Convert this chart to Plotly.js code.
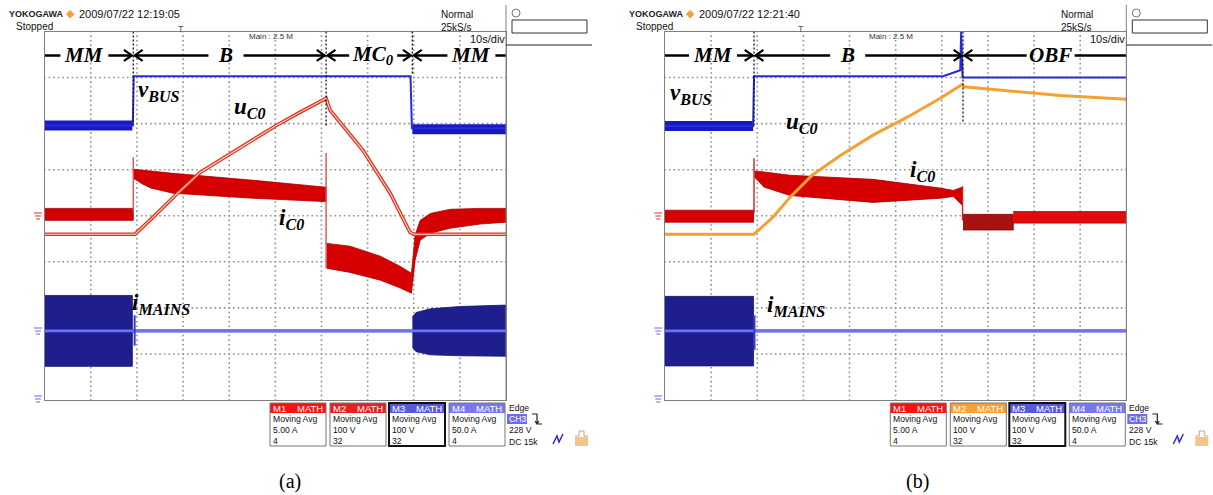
<!DOCTYPE html>
<html><head><meta charset="utf-8">
<script src="https://cdn.plot.ly/plotly-3.0.1.min.js"></script>
<style>html,body{margin:0;padding:0;background:#fff}#chart{width:1213px;height:495px}</style>
</head><body><div id="chart"></div>
<script>
// ================= DATA (time in s, 10 s/div; amplitude in screen divisions) =================
// ---- Panel (a) ----
const phaseA = [19.2, 61.0, 79.7];
const phaseLabelsA = ['MM', 'B', 'MC<sub>0</sub>', 'MM'];
const phaseCentersA = [8.6, 39.3, 71.2, 92.5];
const vBusA_t = [0, 19.1, 19.3, 79.3, 79.6, 100];
const vBusA_v = [1.96, 1.96, 3.03, 3.03, 1.90, 1.90];
const vBusA_noise1_t = [0, 19.0];   const vBusA_noise1_v = [1.96, 1.96];
const vBusA_noise2_t = [79.7, 100]; const vBusA_noise2_v = [1.88, 1.88];
const uC0A_t = [0, 19.6, 23.5, 28.3, 33.7, 45.2, 50.2, 55.4, 60.4, 61.0, 61.9, 69.0, 74.9, 79.2, 80.0, 100];
const uC0A_v = [-0.40, -0.40, -0.03, 0.44, 0.94, 1.64, 1.96, 2.25, 2.51, 2.55, 2.29, 1.42, 0.49, -0.36, -0.40, -0.40];
const iC0A_mm1_t = [0, 19.2];        const iC0A_mm1_hi = [0.16, 0.16];  const iC0A_mm1_lo = [-0.10, -0.10];
const iC0A_b_t  = [19.3, 21.0, 23.0, 27.8, 45.2, 60.4, 61.0];
const iC0A_b_hi = [1.01, 0.99, 0.97, 0.92, 0.77, 0.62, 0.62];
const iC0A_b_lo = [0.81, 0.70, 0.60, 0.49, 0.38, 0.31, 0.31];
const iC0A_mc_t  = [61.1, 66.2, 72.8, 77.1, 79.5];
const iC0A_mc_hi = [-0.60, -0.66, -0.88, -1.10, -1.25];
const iC0A_mc_lo = [-1.14, -1.23, -1.40, -1.57, -1.68];
const iC0A_mm2_t  = [79.5, 80.3, 81.4, 83.6, 87.9, 94.4, 100];
const iC0A_mm2_hi = [-1.25, -0.42, -0.10, 0.05, 0.14, 0.16, 0.16];
const iC0A_mm2_lo = [-1.68, -0.97, -0.53, -0.38, -0.27, -0.18, -0.14];
const iC0A_spike_t = [19.2, 61.0]; const iC0A_spike_lo = [0.10, -1.14]; const iC0A_spike_hi = [1.27, 1.36];
const iMainsA_mm1_t = [0, 19.0];  const iMainsA_mm1_hi = [-1.73, -1.73]; const iMainsA_mm1_lo = [-3.27, -3.27];
const iMainsA_mm2_t = [79.7, 80.5, 83.6, 90.0, 100];
const iMainsA_mm2_hi = [-2.20, -2.10, -2.02, -1.97, -1.94];
const iMainsA_mm2_lo = [-2.85, -2.95, -3.02, -3.04, -3.05];
const iMainsA_t = [0, 100]; const iMainsA_v = [-2.50, -2.50];
const iMainsA_spike_t = [19.5]; const iMainsA_spike_lo = [-2.82]; const iMainsA_spike_hi = [-2.16];

// ---- Panel (b) ----
const phaseB = [19.3, 64.6];
const phaseLabelsB = ['MM', 'B', 'OBF'];
const phaseCentersB = [10.4, 39.6, 83.6];
const vBusB_t = [0, 19.1, 19.3, 60.3, 64.0, 64.2, 64.5, 100];
const vBusB_v = [1.95, 1.95, 3.03, 3.03, 3.16, 4.00, 3.00, 3.00];
const vBusB_noise1_t = [0, 19.1]; const vBusB_noise1_v = [1.95, 1.95];
const uC0B_t = [0, 19.3, 23.4, 27.1, 31.9, 38.0, 45.1, 52.5, 59.7, 64.4, 64.8, 85.7, 100];
const uC0B_v = [-0.40, -0.40, -0.03, 0.40, 0.88, 1.31, 1.75, 2.14, 2.55, 2.85, 2.80, 2.61, 2.53];
const iC0B_mm1_t = [0, 19.2]; const iC0B_mm1_hi = [0.12, 0.12]; const iC0B_mm1_lo = [-0.14, -0.14];
const iC0B_b_t  = [19.4, 21.5, 27.1, 45.1, 59.7, 62.5, 64.4];
const iC0B_b_hi = [0.97, 0.95, 0.88, 0.79, 0.60, 0.55, 0.62];
const iC0B_b_lo = [0.84, 0.62, 0.44, 0.29, 0.38, 0.42, 0.23];
const iC0B_obf1_t = [64.6, 75.5]; const iC0B_obf1_hi = [0.03, 0.03]; const iC0B_obf1_lo = [-0.31, -0.31];
const iC0B_obf2_t = [75.5, 100];  const iC0B_obf2_hi = [0.09, 0.09]; const iC0B_obf2_lo = [-0.16, -0.16];
const iC0B_spike_t = [19.3, 64.5]; const iC0B_spike_lo = [0.05, -0.10]; const iC0B_spike_hi = [1.25, 0.64];
const iMainsB_mm1_t = [0, 19.2]; const iMainsB_mm1_hi = [-1.75, -1.75]; const iMainsB_mm1_lo = [-3.26, -3.26];
const iMainsB_t = [0, 100]; const iMainsB_v = [-2.50, -2.50];
const iMainsB_spike_t = [19.4]; const iMainsB_spike_lo = [-2.91]; const iMainsB_spike_hi = [-2.16];

// ---- Scope readout text ----
const dateA = '2009/07/22 12:19:05';
const dateB = '2009/07/22 12:21:40';
const boxNames = ['M1', 'M2', 'M3', 'M4'];
const boxLines = [['Moving Avg', '5.00 A', '4'], ['Moving Avg', '100 V', '32'], ['Moving Avg', '100 V', '32'], ['Moving Avg', '50.0 A', '4']];
const edgeLines = ['Edge', 'CH3', '228 V', 'DC 15k'];

// ================= BUILD =================
const W = 1213, H = 495;
const PX = x => x / W, PY = y => 1 - y / H;
const GRID_TOP = 31.5, GRID_BOT = 400;
const S_PER_PX = 100 / 461.3;
const D_PER_PX = 8 / (GRID_BOT - GRID_TOP);
const traces = [], shapes = [], annotations = [];

function addGrid(xa, ya) { // oscilloscope dotted graticule, one dot every 1/10 division
  const x = [], y = [];
  for (let g = 1; g <= 9; g++) for (let k = 0; k <= 80; k++) { x.push(g * 10); y.push(-4 + k * 0.1); }
  for (let g = -3; g <= 3; g++) for (let k = 0; k <= 100; k++) { x.push(k); y.push(g); }
  traces.push({type: 'scatter', mode: 'markers', xaxis: xa, yaxis: ya, x: x, y: y,
    marker: {symbol: 'square', size: 1.6, color: '#8f8f8f', line: {width: 0}}, hoverinfo: 'skip'});
}
function addBand(xa, ya, t, hi, lo, fill, edge) {
  traces.push({type: 'scatter', mode: 'lines', xaxis: xa, yaxis: ya,
    x: t.concat(t.slice().reverse()), y: hi.concat(lo.slice().reverse()),
    fill: 'toself', fillcolor: fill, line: {color: edge, width: 0.8}, hoverinfo: 'skip'});
}
function addLine(xa, ya, t, v, color, width) {
  traces.push({type: 'scatter', mode: 'lines', xaxis: xa, yaxis: ya, x: t, y: v,
    line: {color: color, width: width}, hoverinfo: 'skip'});
}
function addSpikes(xa, ya, t, lo, hi, color, width) {
  const x = [], y = [];
  t.forEach((tt, i) => { x.push(tt, tt, null); y.push(lo[i], hi[i], null); });
  traces.push({type: 'scatter', mode: 'lines', xaxis: xa, yaxis: ya, x: x, y: y,
    line: {color: color, width: width}, hoverinfo: 'skip', connectgaps: false});
}

const RED = '#d60000', REDEDGE = '#a80000';
const NAVY = '#1e1e8e';

// ---- Panel (a) traces ----
addGrid('x', 'y');
addBand('x', 'y', iMainsA_mm1_t, iMainsA_mm1_hi, iMainsA_mm1_lo, NAVY, '#15156e');
addBand('x', 'y', iMainsA_mm2_t, iMainsA_mm2_hi, iMainsA_mm2_lo, NAVY, '#15156e');
addLine('x', 'y', iMainsA_t, iMainsA_v, '#4b4be6', 3.2);
addLine('x', 'y', iMainsA_t, iMainsA_v, '#9a9aff', 1);
addSpikes('x', 'y', iMainsA_spike_t, iMainsA_spike_lo, iMainsA_spike_hi, '#3a3ad0', 2);
addBand('x', 'y', iC0A_mm1_t, iC0A_mm1_hi, iC0A_mm1_lo, RED, REDEDGE);
addBand('x', 'y', iC0A_b_t, iC0A_b_hi, iC0A_b_lo, RED, REDEDGE);
addBand('x', 'y', iC0A_mc_t, iC0A_mc_hi, iC0A_mc_lo, RED, REDEDGE);
addBand('x', 'y', iC0A_mm2_t, iC0A_mm2_hi, iC0A_mm2_lo, RED, REDEDGE);
addSpikes('x', 'y', iC0A_spike_t, iC0A_spike_lo, iC0A_spike_hi, '#e05050', 1.4);
addLine('x', 'y', uC0A_t, uC0A_v, '#e2301e', 3.6);
addLine('x', 'y', uC0A_t, uC0A_v, '#ffd8c8', 1.1);
addLine('x', 'y', vBusA_noise1_t, vBusA_noise1_v, '#1818c4', 10);
addLine('x', 'y', vBusA_noise2_t, vBusA_noise2_v, '#1818c4', 10);
addLine('x', 'y', vBusA_t, vBusA_v, '#2a2ad8', 2);

// ---- Panel (b) traces ----
addGrid('x2', 'y2');
addBand('x2', 'y2', iMainsB_mm1_t, iMainsB_mm1_hi, iMainsB_mm1_lo, NAVY, '#15156e');
addLine('x2', 'y2', iMainsB_t, iMainsB_v, '#4b4be6', 3.2);
addLine('x2', 'y2', iMainsB_t, iMainsB_v, '#9a9aff', 1);
addSpikes('x2', 'y2', iMainsB_spike_t, iMainsB_spike_lo, iMainsB_spike_hi, '#3a3ad0', 2);
addBand('x2', 'y2', iC0B_mm1_t, iC0B_mm1_hi, iC0B_mm1_lo, RED, REDEDGE);
addBand('x2', 'y2', iC0B_b_t, iC0B_b_hi, iC0B_b_lo, RED, REDEDGE);
addBand('x2', 'y2', iC0B_obf1_t, iC0B_obf1_hi, iC0B_obf1_lo, '#a81212', '#8a0000');
addBand('x2', 'y2', iC0B_obf2_t, iC0B_obf2_hi, iC0B_obf2_lo, '#e30c0c', REDEDGE);
addSpikes('x2', 'y2', iC0B_spike_t, iC0B_spike_lo, iC0B_spike_hi, '#d02020', 1.4);
addLine('x2', 'y2', uC0B_t, uC0B_v, '#f5a035', 3);
addLine('x2', 'y2', vBusB_noise1_t, vBusB_noise1_v, '#1818c4', 10);
addLine('x2', 'y2', vBusB_t, vBusB_v, '#2a2ad8', 2);

// ---- Phase header rows & dashed markers ----
const HEAD_Y = 3.48;
const SERIF_BI = {family: 'Liberation Serif', weight: 'bold', style: 'italic', color: '#000'};
function chevron(xa, ya, x, dir) {
  const dx = 8 * S_PER_PX * dir, dy = 5.5 * D_PER_PX;
  shapes.push({type: 'path', xref: xa, yref: ya,
    path: 'M ' + (x - dx) + ',' + (HEAD_Y + dy) + ' L ' + x + ',' + HEAD_Y + ' L ' + (x - dx) + ',' + (HEAD_Y - dy),
    line: {color: '#000', width: 2.2}});
}
function hline(xa, ya, x0, x1) {
  shapes.push({type: 'line', xref: xa, yref: ya, x0: x0, x1: x1, y0: HEAD_Y, y1: HEAD_Y, line: {color: '#000', width: 2.5}});
}
function headerRow(xa, ya, bounds, labels, centers, dashEnds) {
  const starts = [0].concat(bounds), ends = bounds.concat([100]);
  const n = labels.length;
  bounds.forEach((b, i) => {
    shapes.push({type: 'line', xref: xa, yref: ya, x0: b, x1: b, y0: 4, y1: dashEnds[i],
      line: {color: '#111', width: 1.3, dash: '2px,2px'}});
  });
  labels.forEach((lab, i) => {
    const c = centers[i];
    const hw = (lab === 'B') ? 3.8 : 5.2;
    const lt = c - hw, rt = c + hw;
    if (i === 0) { hline(xa, ya, 0, lt); }
    else { hline(xa, ya, starts[i] + 0.3, lt); chevron(xa, ya, starts[i] + 0.3, -1); }
    if (i === n - 1) { hline(xa, ya, rt, 100); }
    else { hline(xa, ya, rt, ends[i] - 0.3); chevron(xa, ya, ends[i] - 0.3, 1); }
    annotations.push({xref: xa, yref: ya, x: c, y: HEAD_Y, text: lab, showarrow: false,
      xanchor: 'center', yanchor: 'middle', font: Object.assign({size: 21}, SERIF_BI)});
  });
}
headerRow('x', 'y', phaseA, phaseLabelsA, phaseCentersA, [1.98, 1.96, 3.05]);
headerRow('x2', 'y2', phaseB, phaseLabelsB, phaseCentersB, [1.95, 2.0]);

// ---- Signal labels ----
function sigLabel(xa, ya, x, y, html) {
  annotations.push({xref: xa, yref: ya, x: x, y: y, text: html, showarrow: false,
    xanchor: 'center', yanchor: 'middle', font: Object.assign({size: 23}, SERIF_BI)});
}
sigLabel('x', 'y', 24.8, 2.70, 'v<sub>BUS</sub>');
sigLabel('x', 'y', 44.4, 2.33, 'u<sub>C0</sub>');
sigLabel('x', 'y', 53.6, -0.08, 'i<sub>C0</sub>');
sigLabel('x', 'y', 25.2, -1.92, 'i<sub>MAINS</sub>');
sigLabel('x2', 'y2', 5.6, 2.64, 'v<sub>BUS</sub>');
sigLabel('x2', 'y2', 29.6, 2.02, 'u<sub>C0</sub>');
sigLabel('x2', 'y2', 55.8, 0.98, 'i<sub>C0</sub>');
sigLabel('x2', 'y2', 28.4, -1.95, 'i<sub>MAINS</sub>');

// ---- Scope UI decorations (paper pixels) ----
function ptxt(x, y, text, size, color, anchor, weight) {
  annotations.push({xref: 'paper', yref: 'paper', x: PX(x), y: PY(y), text: text, showarrow: false,
    xanchor: anchor || 'left', yanchor: 'middle', align: 'left', borderpad: 0,
    font: {family: 'Liberation Sans', size: size, color: color || '#000', weight: weight || 'normal'}});
}
function prect(x0, y0, x1, y1, line, fill, lw) {
  shapes.push({type: 'rect', xref: 'paper', yref: 'paper', x0: PX(x0), x1: PX(x1), y0: PY(y1), y1: PY(y0),
    line: {color: line || 'rgba(0,0,0,0)', width: lw === undefined ? 1 : lw}, fillcolor: fill || 'rgba(0,0,0,0)', layer: 'above'});
}
function pline(x0, y0, x1, y1, color, w) {
  shapes.push({type: 'line', xref: 'paper', yref: 'paper', x0: PX(x0), x1: PX(x1), y0: PY(y0), y1: PY(y1),
    line: {color: color, width: w || 1}, layer: 'above'});
}
function ppath(d, color, w, fill) {
  shapes.push({type: 'path', xref: 'paper', yref: 'paper', path: d, line: {color: color, width: w || 1},
    fillcolor: fill || 'rgba(0,0,0,0)', layer: 'above'});
}
function pathPx(pts) {
  return pts.map(p => p[0] + ' ' + PX(p[1]).toFixed(5) + ',' + PY(p[2]).toFixed(5)).join(' ');
}

const panelsUI = [{dx: 0, date: dateA, m2: '#e62020'}, {dx: 620.3, date: dateB, m2: '#f7a033'}];
panelsUI.forEach(P => {
  const d = P.dx;
  ptxt(8 + d, 14, 'YOKOGAWA', 9, '#222', 'left', 'bold');
  ptxt(70 + d, 13, '◆', 11, '#f5a040', 'center');
  ptxt(78 + d, 14, P.date, 11, '#111');
  ptxt(15 + d, 26, 'Stopped', 10, '#111');
  ptxt(181 + d, 29, 'T', 9, '#555', 'center');
  ptxt(271 + d, 36, 'Main : 2.5 M', 8, '#333', 'center');
  ptxt(440 + d, 15, 'Normal', 10, '#111');
  ptxt(440 + d, 27.5, '25kS/s', 10, '#111');
  ptxt(506 + d, 39, '10s/div', 11, '#111', 'right');
  pline(506 + d, 5, 506 + d, GRID_BOT, '#808080', 1);
  prect(512 + d, 20, 587 + d, 33, '#333', null, 1);
  pline(506 + d, 45, 592 + d, 45, '#222', 1);
  shapes.push({type: 'circle', xref: 'paper', yref: 'paper', x0: PX(512 + d), x1: PX(520 + d), y0: PY(17), y1: PY(9),
    line: {color: '#777', width: 1}, layer: 'above'});
  [[216, '#e03030'], [331, '#6a6ae0'], [399, '#6a6ae0']].forEach(g => {
    const y = g[0];
    ppath(pathPx([['M', 34 + d, y - 3], ['L', 42 + d, y - 3], ['M', 35 + d, y], ['L', 41 + d, y], ['M', 36 + d, y + 3], ['L', 40 + d, y + 3]]), g[1], 1);
  });
  const bx = [270, 330, 389, 449];
  const hcol = ['#ff1010', P.m2, '#5858dc', '#7878ee'];
  bx.forEach((x0, i) => {
    const x1 = x0 + 56;
    prect(x0 + d, 403, x1 + d, 413, null, hcol[i], 0);
    prect(x0 + d, 403, x1 + d, 446, i === 2 ? '#111' : '#777', null, i === 2 ? 2 : 1);
    ptxt(x0 + 2 + d, 408, boxNames[i], 9.5, '#fff');
    ptxt(x1 - 2 + d, 408, 'MATH', 9.5, '#fff', 'right');
    ptxt(x0 + 2 + d, 430, boxLines[i].join('<br>'), 8.6, '#111');
  });
  prect(507 + d, 414, 527 + d, 424, null, '#6c6cf0', 0);
  ptxt(508 + d, 425, edgeLines[0] + '<br><span style="color:#ffffff">' + edgeLines[1] + '</span><br>' +
       edgeLines[2] + '<br>' + edgeLines[3], 8.6, '#111');
  ppath(pathPx([['M', 532 + d, 414], ['L', 537 + d, 414], ['L', 537 + d, 424], ['L', 542 + d, 424], ['M', 535 + d, 421], ['L', 537 + d, 424], ['L', 539 + d, 421]]), '#222', 1.2);
  ppath(pathPx([['M', 553 + d, 444], ['L', 557 + d, 436], ['L', 559 + d, 442], ['L', 563 + d, 434]]), '#2a2ad0', 1.5);
  prect(575 + d, 437, 588 + d, 446, null, '#f3c58a', 0);
  ppath(pathPx([['M', 575 + d, 436], ['L', 579 + d, 436], ['L', 579 + d, 431], ['L', 584 + d, 431], ['L', 584 + d, 436], ['L', 588 + d, 436]]), '#e0a060', 1);
});
annotations.push({xref: 'paper', yref: 'paper', x: PX(290), y: PY(481), text: '(a)', showarrow: false,
  xanchor: 'center', yanchor: 'middle', font: {family: 'Liberation Serif', size: 20, color: '#000'}});
annotations.push({xref: 'paper', yref: 'paper', x: PX(917), y: PY(481), text: '(b)', showarrow: false,
  xanchor: 'center', yanchor: 'middle', font: {family: 'Liberation Serif', size: 20, color: '#000'}});

// ---- Axes ----
function xax(x0, x1) {
  return {domain: [PX(x0), PX(x1)], range: [0, 100], showticklabels: false, ticks: '',
    showgrid: false, zeroline: false,
    showline: true, linecolor: '#808080', linewidth: 1, mirror: true, fixedrange: true};
}
function yax() {
  return {domain: [PY(GRID_BOT), PY(GRID_TOP)], range: [-4, 4], showticklabels: false, ticks: '',
    showgrid: false, zeroline: false,
    showline: true, linecolor: '#808080', linewidth: 1, mirror: true, fixedrange: true};
}
const yA = yax(), yB = yax();
yA.anchor = 'x'; yB.anchor = 'x2';
const xA = xax(44.7, 506), xB = xax(665, 1126.3);
xA.anchor = 'y'; xB.anchor = 'y2';

const layout = {
  width: W, height: H, margin: {l: 0, r: 0, t: 0, b: 0},
  paper_bgcolor: '#ffffff', plot_bgcolor: '#ffffff', showlegend: false, hovermode: false,
  xaxis: xA, yaxis: yA, xaxis2: xB, yaxis2: yB,
  shapes: shapes, annotations: annotations
};
Plotly.newPlot('chart', traces, layout, {staticPlot: true, displayModeBar: false});
</script>
</body></html>
